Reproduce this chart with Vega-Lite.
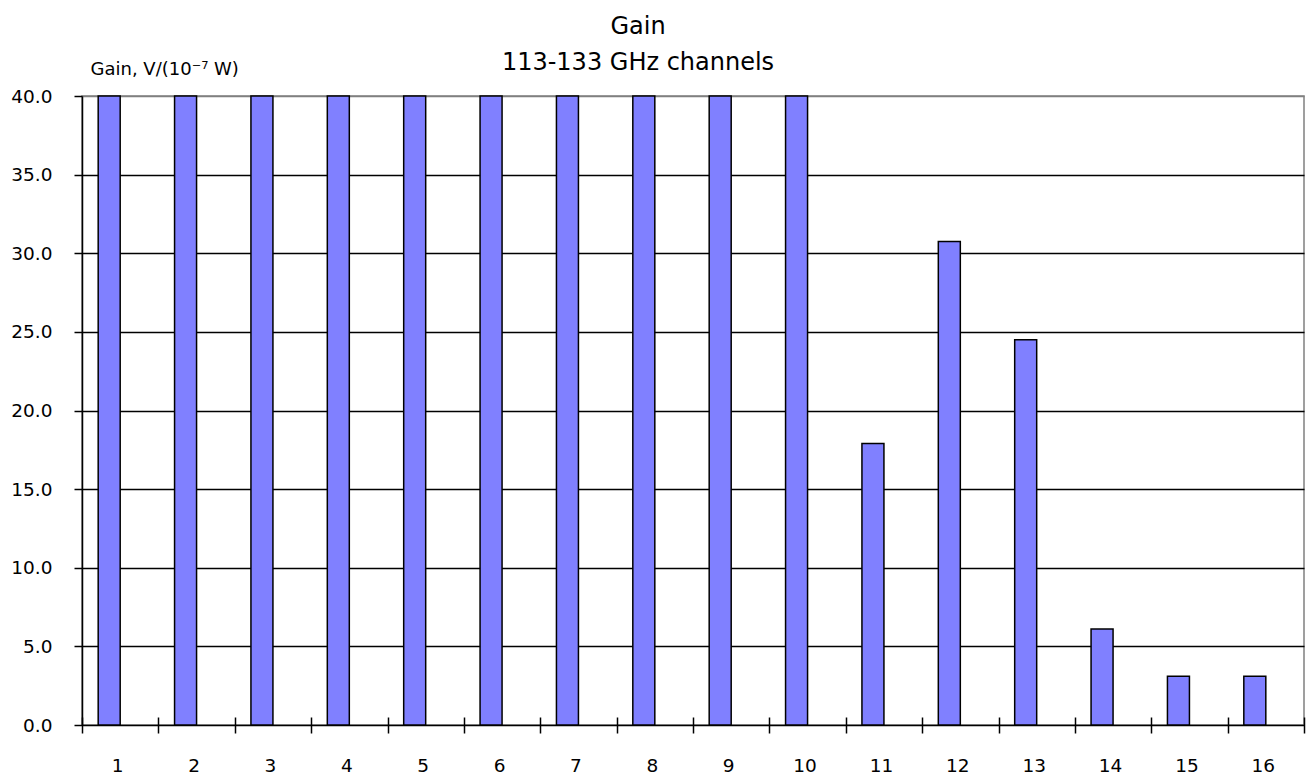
{
  "$schema": "https://vega.github.io/schema/vega-lite/v6.json",
  "width": 1222,
  "height": 629,
  "autosize": {"type": "none"},
  "padding": {"left": 82, "top": 96, "right": 10, "bottom": 54},
  "background": "white",
  "config": {
    "font": "DejaVu Sans",
    "view": {"stroke": "#808080", "strokeWidth": 1.5}
  },
  "title": {
    "text": "Gain",
    "subtitle": "113-133 GHz channels",
    "anchor": "middle",
    "dx": -55,
    "offset": -15,
    "font": "DejaVu Sans",
    "fontSize": 24,
    "fontWeight": "normal",
    "color": "black",
    "subtitleFont": "DejaVu Sans",
    "subtitleFontSize": 24,
    "subtitleColor": "black",
    "subtitlePadding": 12
  },
  "data": {
    "values": [
      {"channel": "1", "gain": 40},
      {"channel": "2", "gain": 40},
      {"channel": "3", "gain": 40},
      {"channel": "4", "gain": 40},
      {"channel": "5", "gain": 40},
      {"channel": "6", "gain": 40},
      {"channel": "7", "gain": 40},
      {"channel": "8", "gain": 40},
      {"channel": "9", "gain": 40},
      {"channel": "10", "gain": 40},
      {"channel": "11", "gain": 17.9},
      {"channel": "12", "gain": 30.75},
      {"channel": "13", "gain": 24.5},
      {"channel": "14", "gain": 6.1},
      {"channel": "15", "gain": 3.1},
      {"channel": "16", "gain": 3.1}
    ]
  },
  "mark": {"type": "bar", "width": 22, "xOffset": -11, "color": "#8080ff", "stroke": "black", "strokeWidth": 1.5},
  "encoding": {
    "x": {
      "field": "channel", "type": "ordinal", "sort": null,
      "scale": {"paddingInner": 0, "paddingOuter": 0},
      "axis": {
        "orient": "bottom", "domain": false, "offset": -8,
        "tickBand": "extent", "tickSize": 16, "tickColor": "black", "tickWidth": 1.5,
        "labelAngle": 0, "labelFontSize": 18.5, "labelColor": "black", "labelPadding": 23, "labelOffset": -3,
        "grid": false, "title": null
      }
    },
    "y": {
      "field": "gain", "type": "quantitative",
      "scale": {"domain": [0, 40]},
      "axis": {
        "values": [0, 5, 10, 15, 20, 25, 30, 35, 40],
        "format": ".1f",
        "domainColor": "black", "domainWidth": 1.5,
        "tickSize": 8, "tickColor": "black", "tickWidth": 1.5,
        "labelFontSize": 18.5, "labelColor": "black", "labelPadding": 22,
        "grid": true,
        "gridColor": {"condition": {"test": "datum.value === 40", "value": "#808080"}, "value": "black"},
        "gridWidth": 1.5,
        "title": "Gain, V/(10⁻⁷ W)",
        "titleAngle": 0, "titleAlign": "left", "titleBaseline": "alphabetic",
        "titleX": 8, "titleY": -22,
        "titleFontSize": 18, "titleFontWeight": "normal", "titleColor": "black"
      }
    }
  }
}
